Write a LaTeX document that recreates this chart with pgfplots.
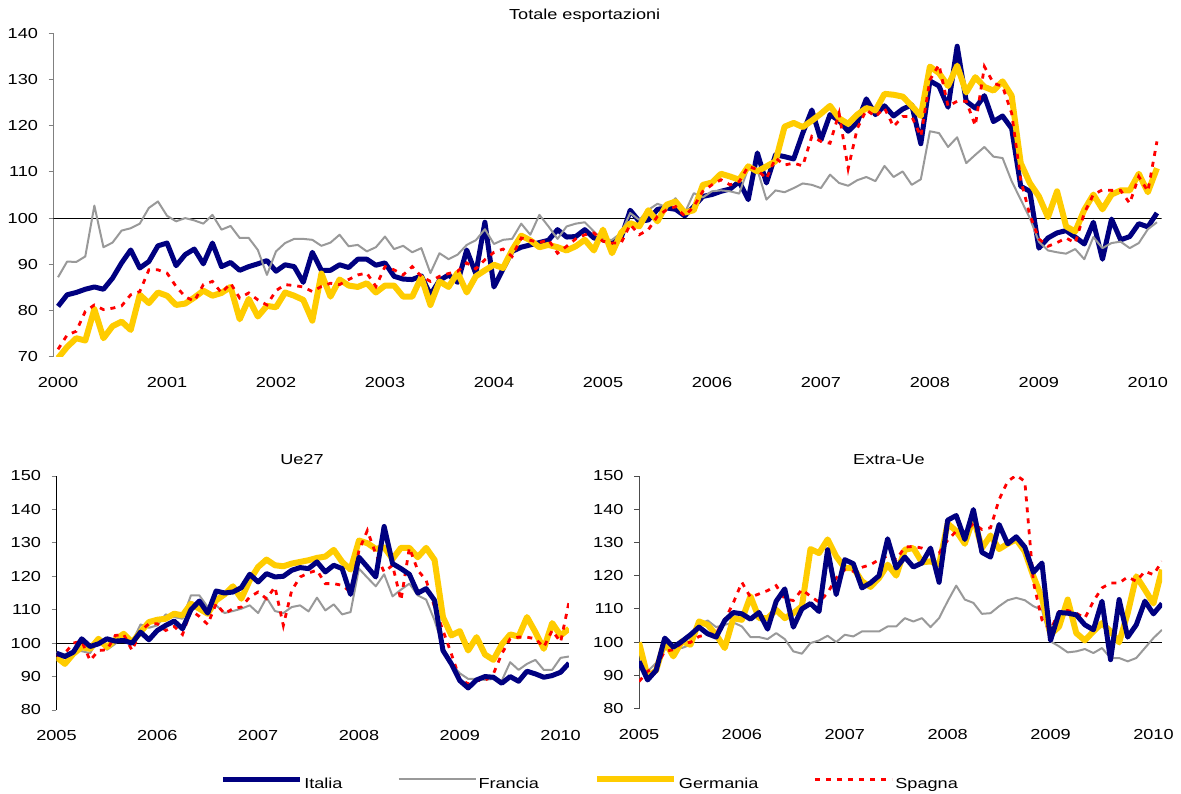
\documentclass[border=0pt]{standalone}
\usepackage{fontspec}
\setmainfont{Liberation Sans}[FakeStretch=1.25]
\usepackage{pgfplots}
\pgfplotsset{compat=1.18}
\definecolor{ita}{HTML}{000080}
\definecolor{fra}{HTML}{999999}
\definecolor{ger}{HTML}{FFCC00}
\definecolor{spa}{HTML}{FF0000}
\pgfplotsset{
  table/dat/.style={x expr=\coordindex, y index=0, header=false, row sep=\\},
  ita/.style={draw=ita, line width=5pt, line join=round, mark=none},
  fra/.style={draw=fra, line width=2pt, line join=round, mark=none},
  ger/.style={draw=ger, line width=6pt, line join=round, mark=none},
  spa/.style={draw=spa, line width=2.8pt, dash pattern=on 5pt off 6pt, mark=none},
  panel/.style={scale only axis, enlargelimits=false,
    axis x line*=bottom, axis y line*=left,
    x axis line style={draw=none}, y axis line style={-, line width=1pt},
    xtick style={draw=none}, ytick style={line width=1pt},
    tick align=outside, major tick length=5pt,
    tick label style={font=\fontsize{14.5}{17}\selectfont},
    /pgf/number format/assume math mode=true,
    yticklabel style={xshift=-7pt},
    xticklabel style={yshift=-12pt},
    title style={font=\fontsize{14.5}{17}\selectfont, anchor=base},
  },
}
\begin{document}
\begin{tikzpicture}
\useasboundingbox (0,0) rectangle (1181pt,793pt);
% ---------------- top panel
\begin{axis}[panel, at={(53.5pt,436.3pt)}, anchor=south west,
  width=1108pt, height=323.4pt,
  xmin=-0.5, xmax=121.5, ymin=70, ymax=140,
  ytick={70,80,...,140},
  xtick={0,12,...,120}, xticklabels={2000,2001,2002,2003,2004,2005,2006,2007,2008,2009,2010},
  y axis line style={draw=gray}, ytick style={draw=gray},
  title={Totale esportazioni},
  title style={at={(axis description cs:0.4794,1.0247)}},
  legend columns=4,
  legend image code/.code={\draw[#1] (0pt,5pt) -- (77pt,5pt);},
  legend style={draw=none, fill=none, inner sep=0pt, outer sep=0pt,
    at={(axis description cs:0.1505,-1.3197)}, anchor=west,
    nodes={inner sep=0pt, font=\fontsize{14.5}{17}\selectfont},
    /tikz/every odd column/.append style={column sep=2pt},
    /tikz/every even column/.append style={column sep=55pt}},
  legend cell align=left,
]
\addplot[black, line width=1pt, forget plot] coordinates {(-0.5,100) (121.5,100)};
\addplot[ita] table[dat] {80.9\\83.4\\83.9\\84.6\\85.1\\84.6\\87.0\\90.3\\93.1\\89.2\\90.6\\94.0\\94.6\\89.7\\92.1\\93.3\\90.1\\94.6\\89.5\\90.4\\88.7\\89.5\\90.1\\90.8\\88.5\\89.9\\89.5\\86.1\\92.6\\88.7\\88.7\\89.9\\89.3\\91.1\\91.1\\89.8\\90.3\\87.4\\86.8\\86.7\\87.5\\83.4\\86.5\\87.7\\86.1\\93.1\\88.0\\99.1\\85.1\\89.0\\92.8\\93.7\\94.2\\94.7\\95.2\\97.5\\95.9\\96.0\\97.5\\95.7\\95.3\\94.6\\95.7\\101.7\\99.3\\99.6\\101.9\\102.2\\101.9\\100.5\\102.5\\104.7\\105.1\\105.8\\106.3\\107.9\\104.0\\114.1\\107.6\\113.7\\113.3\\112.8\\118.4\\123.4\\116.9\\122.4\\121.1\\118.8\\120.7\\125.8\\122.4\\124.3\\122.1\\123.6\\124.5\\116.1\\129.7\\128.6\\124.0\\137.2\\125.3\\123.8\\126.5\\120.9\\122.1\\119.4\\106.9\\105.8\\93.5\\95.7\\96.8\\97.3\\95.9\\94.4\\99.1\\91.1\\99.8\\95.3\\96.0\\98.8\\98.1\\101.1\\};
\addlegendentry{Italia}
\addplot[fra] table[dat] {87.2\\90.6\\90.5\\91.7\\102.7\\93.7\\94.7\\97.3\\97.8\\98.8\\102.2\\103.6\\100.5\\99.3\\100.0\\99.5\\98.8\\100.7\\97.5\\98.3\\95.7\\95.7\\93.1\\87.7\\92.8\\94.6\\95.5\\95.5\\95.3\\94.0\\94.7\\96.4\\93.9\\94.2\\92.8\\93.7\\96.0\\93.3\\94.0\\92.6\\93.5\\88.1\\92.4\\91.1\\92.1\\94.2\\95.2\\97.6\\94.4\\95.3\\95.5\\98.8\\96.4\\100.7\\98.2\\95.5\\98.2\\98.8\\99.1\\97.1\\95.3\\95.3\\96.8\\101.1\\99.6\\101.8\\103.1\\102.4\\104.3\\101.1\\105.4\\104.5\\105.8\\106.0\\105.8\\105.3\\110.8\\110.5\\104.0\\106.0\\105.6\\106.5\\107.5\\107.2\\106.5\\109.4\\107.6\\107.0\\108.2\\108.9\\108.0\\111.3\\108.9\\110.1\\107.2\\108.4\\118.8\\118.4\\115.4\\117.5\\111.9\\113.7\\115.4\\113.3\\113.0\\108.0\\104.0\\100.0\\94.9\\93.0\\92.6\\92.3\\93.3\\91.1\\95.9\\93.5\\94.6\\94.9\\93.5\\94.6\\97.6\\99.1\\};
\addlegendentry{Francia}
\addplot[ger] table[dat] {69.7\\72.1\\74.0\\73.5\\80.3\\74.0\\76.6\\77.6\\75.8\\83.4\\81.6\\83.9\\83.2\\81.2\\81.5\\82.8\\84.3\\83.2\\83.8\\85.1\\78.1\\82.5\\78.7\\81.0\\80.7\\83.9\\83.2\\82.3\\77.8\\88.0\\83.0\\86.7\\85.4\\85.1\\85.9\\83.9\\85.4\\85.4\\83.0\\83.0\\87.2\\81.2\\86.3\\85.1\\88.2\\83.9\\87.4\\88.7\\89.9\\89.2\\93.1\\96.2\\95.2\\93.7\\94.2\\93.7\\93.0\\93.9\\95.3\\93.0\\97.5\\92.4\\96.8\\98.9\\98.2\\101.7\\99.3\\102.9\\103.6\\101.2\\101.7\\107.2\\107.7\\109.6\\109.0\\108.3\\111.2\\110.1\\111.2\\112.3\\119.8\\120.6\\119.7\\121.1\\122.6\\124.3\\121.6\\120.4\\122.4\\123.8\\123.3\\126.9\\126.7\\126.3\\124.3\\122.1\\132.8\\131.4\\128.6\\133.0\\127.2\\130.5\\128.4\\127.6\\129.6\\126.5\\111.9\\107.6\\104.7\\100.2\\105.8\\98.2\\97.1\\101.8\\105.1\\101.9\\105.1\\106.0\\106.0\\109.6\\105.6\\110.8\\};
\addlegendentry{Germania}
\addplot[spa] table[dat] {71.6\\74.7\\75.5\\79.8\\81.2\\80.2\\80.5\\81.0\\83.4\\84.1\\88.8\\88.8\\88.1\\85.2\\83.0\\82.0\\85.6\\86.3\\83.8\\85.9\\82.7\\83.8\\82.3\\81.2\\84.3\\85.6\\85.4\\85.1\\84.1\\85.2\\85.9\\85.6\\86.7\\87.7\\88.1\\85.2\\89.5\\88.8\\87.7\\89.5\\87.4\\86.3\\87.4\\88.0\\88.5\\90.3\\89.0\\91.0\\92.6\\93.3\\91.7\\95.7\\95.2\\94.7\\95.3\\92.4\\93.9\\95.5\\96.4\\96.8\\95.0\\94.6\\94.6\\98.6\\96.4\\97.5\\100.4\\101.8\\102.5\\100.4\\102.5\\105.8\\107.2\\108.3\\107.2\\107.9\\111.2\\110.5\\108.5\\113.0\\111.5\\111.9\\111.3\\117.7\\116.6\\116.2\\122.7\\110.7\\119.4\\123.4\\122.0\\123.8\\119.8\\122.0\\122.0\\117.7\\129.9\\133.2\\124.2\\125.3\\125.3\\120.0\\132.8\\129.2\\128.5\\122.7\\108.3\\100.7\\95.5\\93.9\\94.7\\95.7\\94.6\\101.1\\105.1\\106.1\\106.0\\106.0\\103.2\\109.0\\105.8\\116.6\\};
\addlegendentry{Spagna}
\end{axis}
% ---------------- bottom left: Ue27
\begin{axis}[panel, at={(56.5pt,83pt)}, anchor=south west,
  width=512.5pt, height=234pt,
  xmin=0, xmax=61, ymin=80, ymax=150,
  ytick={80,90,...,150},
  xtick={0,12,...,60}, xticklabels={2005,2006,2007,2008,2009,2010},
  title={Ue27},
  title style={at={(axis description cs:0.479,1.0235)}},
]
\addplot[black, line width=1pt] coordinates {(0,100) (61,100)};
\addplot[fra] table[dat] {97.3\\96.6\\97.8\\97.6\\97.0\\101.3\\98.0\\99.8\\103.0\\100.3\\105.6\\104.6\\105.3\\108.6\\107.8\\107.3\\114.3\\114.3\\110.8\\111.3\\109.0\\109.6\\110.3\\111.3\\109.0\\113.6\\109.6\\109.0\\110.8\\111.3\\109.5\\113.6\\109.8\\111.6\\108.6\\109.3\\122.3\\119.6\\117.0\\120.6\\114.0\\116.0\\117.8\\114.3\\113.0\\106.8\\98.8\\93.8\\91.0\\89.3\\89.3\\89.0\\89.3\\88.8\\94.3\\92.0\\93.8\\95.0\\92.0\\92.0\\95.6\\96.0\\};
\addplot[ger] table[dat] {95.8\\93.8\\96.8\\98.8\\98.3\\101.3\\98.8\\101.0\\102.8\\100.3\\103.3\\106.3\\107.0\\107.3\\108.8\\108.3\\111.8\\110.3\\108.8\\112.8\\114.6\\117.0\\113.3\\118.8\\122.8\\125.0\\123.3\\123.0\\123.8\\124.3\\124.8\\125.5\\125.9\\127.9\\124.3\\122.0\\130.7\\129.9\\128.2\\128.7\\125.2\\128.5\\128.5\\125.7\\128.5\\124.9\\107.8\\102.3\\103.6\\97.8\\101.8\\96.6\\95.0\\99.6\\102.6\\102.0\\107.8\\103.3\\98.3\\106.0\\102.3\\104.3\\};
\addplot[spa] table[dat] {96.3\\97.0\\100.0\\100.6\\94.8\\97.8\\98.0\\102.3\\102.6\\97.8\\103.6\\105.8\\105.8\\103.8\\105.0\\102.6\\109.8\\108.0\\105.6\\111.8\\108.8\\110.3\\110.8\\113.8\\115.3\\113.3\\116.8\\105.3\\115.8\\119.8\\121.0\\121.8\\117.8\\117.8\\117.3\\115.3\\127.7\\133.7\\126.7\\121.3\\123.3\\112.8\\128.5\\121.8\\118.8\\110.8\\103.8\\96.8\\89.3\\87.8\\88.8\\88.8\\90.8\\96.8\\101.3\\101.8\\101.8\\101.3\\98.8\\103.8\\100.3\\112.3\\};
\addplot[ita] table[dat] {97.0\\96.0\\97.3\\101.3\\99.0\\99.8\\101.3\\100.6\\100.8\\100.0\\103.3\\101.0\\103.8\\105.3\\106.6\\104.3\\110.0\\112.6\\109.0\\115.6\\115.0\\115.3\\116.6\\120.6\\118.3\\120.8\\119.8\\120.0\\121.8\\122.6\\122.3\\124.3\\121.3\\123.3\\122.3\\114.6\\125.7\\122.8\\119.8\\134.9\\123.8\\122.3\\120.6\\115.0\\116.3\\112.8\\97.8\\93.8\\88.8\\86.6\\89.0\\90.0\\89.8\\88.0\\90.0\\88.6\\91.6\\90.8\\89.8\\90.3\\91.3\\94.0\\};
\end{axis}
% ---------------- bottom right: Extra-Ue
\begin{axis}[panel, at={(639pt,84.5pt)}, anchor=south west,
  width=523pt, height=232.5pt,
  xmin=0, xmax=61, ymin=80, ymax=150,
  ytick={80,90,...,150},
  xtick={0,12,...,60}, xticklabels={2005,2006,2007,2008,2009,2010},
  y axis line style={draw=black!70}, ytick style={draw=black!70},
  title={Extra-Ue},
  title style={at={(axis description cs:0.478,1.0237)}},
]
\addplot[black, line width=1pt] coordinates {(0,100) (61,100)};
\addplot[fra] table[dat] {92.7\\91.2\\93.7\\97.7\\98.7\\98.2\\99.2\\105.2\\106.5\\104.5\\105.2\\105.9\\104.7\\101.5\\101.5\\100.9\\102.7\\100.9\\97.2\\96.5\\99.7\\100.5\\101.9\\100.0\\102.2\\101.7\\103.2\\103.2\\103.2\\104.7\\104.7\\107.2\\106.2\\107.2\\104.5\\107.2\\112.3\\117.0\\112.8\\111.8\\108.5\\108.7\\110.8\\112.6\\113.3\\112.6\\110.8\\109.7\\100.2\\98.7\\96.9\\97.2\\97.9\\96.7\\98.2\\95.2\\95.2\\94.2\\95.2\\98.2\\101.2\\103.7\\};
\addplot[ger] table[dat] {99.9\\89.6\\91.5\\100.2\\95.7\\100.2\\99.2\\106.2\\105.2\\102.2\\98.2\\107.2\\106.7\\113.8\\107.2\\107.2\\109.7\\107.2\\108.7\\110.8\\128.0\\126.8\\130.9\\125.8\\122.3\\122.3\\118.3\\116.6\\119.3\\123.3\\120.0\\127.8\\128.3\\124.0\\124.3\\123.3\\135.7\\133.4\\129.6\\137.4\\128.3\\132.1\\128.0\\129.6\\130.9\\127.3\\119.8\\113.3\\102.2\\104.7\\112.8\\102.7\\100.5\\103.2\\105.7\\103.2\\99.9\\108.7\\119.8\\115.8\\111.6\\121.8\\};
\addplot[spa] table[dat] {88.1\\91.2\\92.7\\97.2\\97.7\\99.7\\99.9\\101.7\\102.2\\102.7\\106.7\\111.8\\118.0\\113.5\\114.5\\115.5\\117.0\\113.0\\112.5\\115.8\\113.8\\112.0\\114.8\\119.3\\121.8\\121.3\\122.5\\123.3\\124.8\\126.0\\124.8\\128.6\\128.8\\128.3\\127.3\\126.8\\130.7\\133.4\\133.1\\135.7\\133.9\\134.4\\142.9\\148.4\\150.2\\148.4\\118.0\\106.7\\103.7\\109.2\\109.5\\108.7\\107.2\\112.3\\116.3\\117.8\\117.8\\119.6\\118.3\\121.3\\120.3\\124.3\\};
\addplot[ita] table[dat] {94.2\\88.6\\91.5\\101.2\\98.5\\100.2\\102.2\\104.5\\102.5\\101.5\\106.5\\108.9\\108.5\\106.9\\108.9\\103.9\\112.3\\116.0\\104.5\\110.0\\111.6\\109.2\\127.8\\114.3\\124.8\\123.6\\116.3\\117.8\\120.0\\131.1\\122.3\\125.6\\122.6\\123.8\\128.3\\118.0\\136.7\\138.1\\130.9\\139.9\\127.0\\125.6\\135.4\\129.6\\131.7\\128.6\\121.0\\123.8\\100.5\\108.9\\108.7\\108.2\\105.2\\103.7\\112.3\\94.7\\112.8\\101.5\\105.2\\112.3\\108.5\\111.6\\};
\end{axis}
\end{tikzpicture}
\end{document}
